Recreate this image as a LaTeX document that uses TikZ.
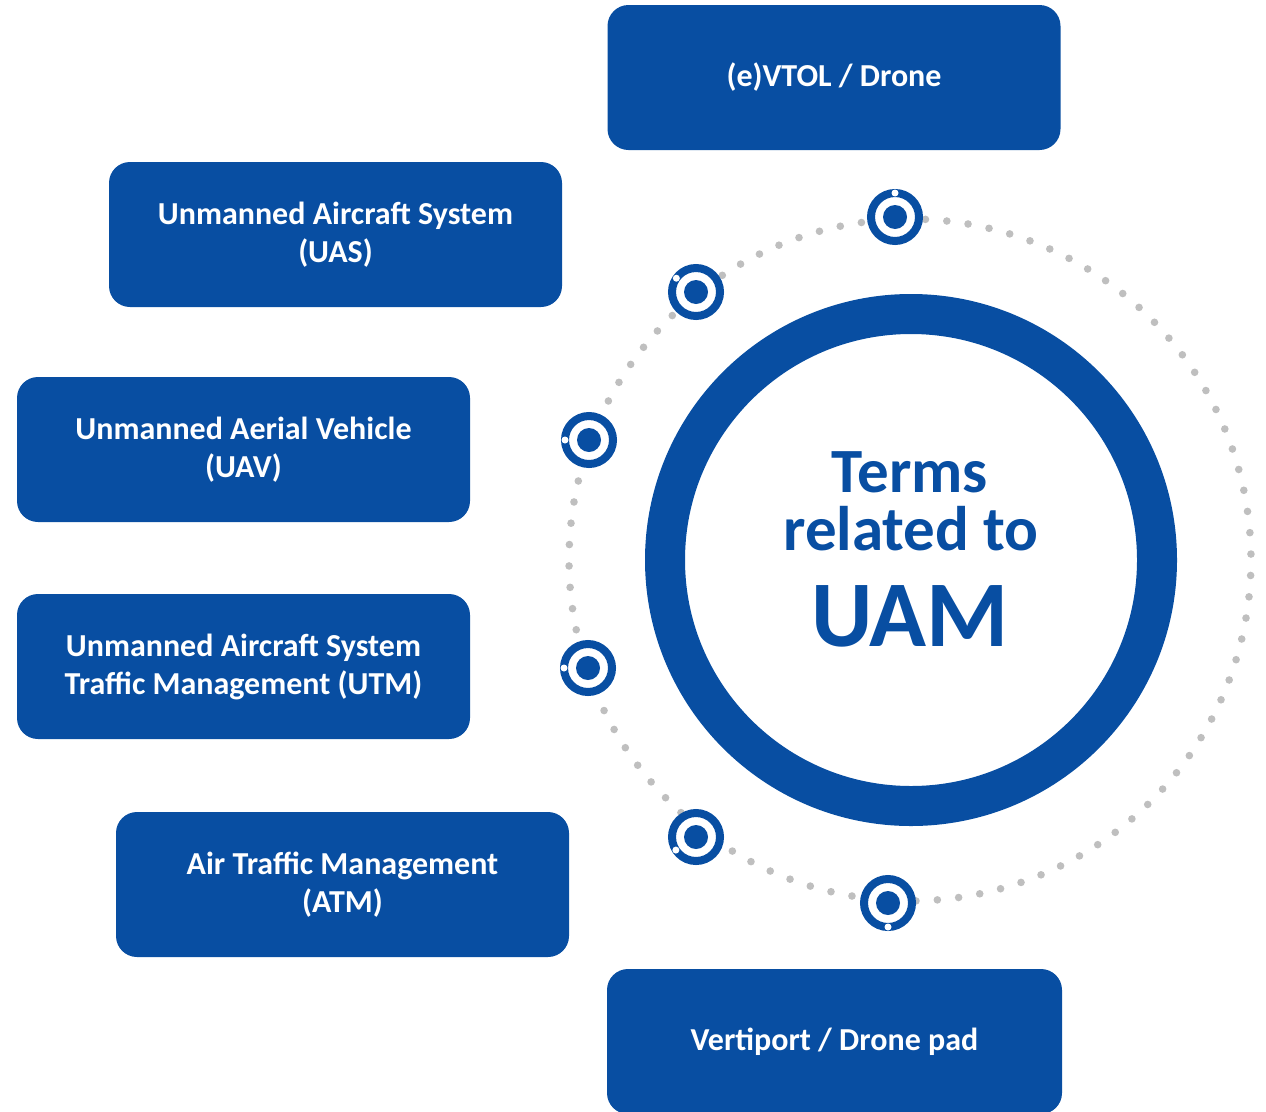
\documentclass[tikz,border=0pt]{standalone}
\usepackage{fontspec}
\setmainfont{Carlito}
\usetikzlibrary{calc}
\definecolor{uamBlue}{HTML}{084EA2}
\definecolor{uamGray}{HTML}{BFBFBF}

\begin{document}
\begin{tikzpicture}[x=1pt,y=-1pt,
  box/.style={fill=uamBlue,rounded corners=21pt,minimum width=453pt,minimum height=145pt,
              inner sep=0pt,text=white,font=\fontsize{32}{38}\selectfont\bfseries,align=center},
  mid/.style={anchor=base,text=uamBlue,inner sep=0pt}]
  \useasboundingbox (0,0) rectangle (1266,1111);
  % dotted orbit
  \foreach \k in {0,...,99}
    \fill[uamGray] ($(910,560)+(\k*3.6-1:341)$) circle (3.8);
  % thick ring around the title
  \draw[uamBlue,line width=40pt] (911,560) circle (246);
  \node[mid,font=\fontsize{63}{63}\selectfont\bfseries] (terms) at (910,492) {Terms};
  \node[mid,font=\fontsize{63}{63}\selectfont\bfseries] (rel)   at (911,550) {related to};
  \node[mid,font=\fontsize{94}{94}\selectfont\bfseries] (uam)   at (910,646) {UAM};
  % markers on the orbit: x / y / white notch
  \foreach \mx/\my/\w in {895/217/90,696/292/145,589/440/180,
                          588/668/180,696/837/213,888/903/270}{
    \coordinate (m) at (\mx,\my);
    \draw[uamBlue,line width=8pt,fill=white] (m) circle (24);
    \fill[uamBlue] (m) circle (12);
    \fill[white] ($(m)+(-\w:24)$) circle (3.5);
  }
  % term boxes
  \node[box] (drone) at (834,77.5)    {(e)VTOL / Drone};
  \node[box] (uas)   at (335.5,234.5) {Unmanned Aircraft System\\(UAS)};
  \node[box] (uav)   at (243.5,449.5) {Unmanned Aerial Vehicle\\(UAV)};
  \node[box] (utm)   at (243.5,666.5) {Unmanned Aircraft System\\Traffic Management (UTM)};
  \node[box] (atm)   at (342.5,884.5) {Air Traffic Management\\(ATM)};
  \node[box,minimum width=455pt] (port) at (834.5,1041.5) {Vertiport / Drone pad};
\end{tikzpicture}
\end{document}
